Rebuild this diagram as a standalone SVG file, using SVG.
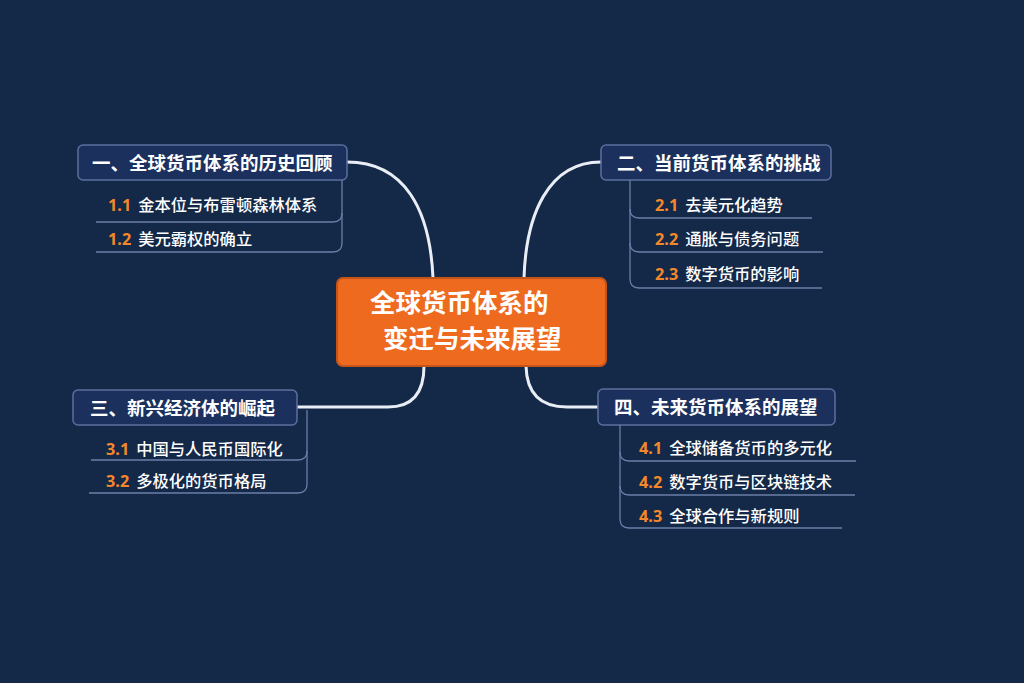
<svg xmlns="http://www.w3.org/2000/svg" width="1024" height="683" viewBox="0 0 1024 683">
<defs>
<style>
.bg{fill:#142848}
.node rect{fill:#1b305d;stroke:#5b6f9c;stroke-width:1.5}
.ht{font-family:"Noto Sans CJK SC","Noto Sans",sans-serif;font-weight:700;font-size:18.5px;fill:#ffffff}
.it{font-family:"Noto Sans CJK SC","Noto Sans",sans-serif;font-weight:500;font-size:16.3px;fill:#ffffff}
.num{font-family:"Noto Sans","Noto Sans CJK SC",sans-serif;font-weight:700;fill:#f5872b}
.br{fill:none;stroke:#6b7ea8;stroke-width:1.3}
.conn{fill:none;stroke:#e9edf5;stroke-width:3;stroke-linecap:round}
.ct{font-family:"Noto Sans CJK SC","Noto Sans",sans-serif;font-weight:700;font-size:25.5px;fill:#ffffff}
</style>
</defs>
<rect class="bg" x="0" y="0" width="1024" height="683"/>
<g id="connectors">
<path class="conn" d="M347,162 C405,162 430,210 433,278"/>
<path class="conn" d="M601,162 C548,162 526,215 524,278"/>
<path class="conn" d="M297,407 L388,407 Q424,407 424,366"/>
<path class="conn" d="M526,366 Q527,407 567,407 L598,407"/>
</g>
<g id="center">
<rect x="337" y="278" width="269" height="88" rx="6" fill="#ee6a1f" stroke="#c65418" stroke-width="2"/>
<text class="ct" x="370" y="312">全球货币体系的</text>
<text class="ct" x="383" y="348">变迁与未来展望</text>
</g>
<g id="node1" class="node">
<rect x="78" y="145" width="269" height="35" rx="5"/>
<text class="ht" x="92" y="169.5">一、全球货币体系的历史回顾</text>
<path class="br" d="M342,180 V213 Q342,222 333,222 H96"/>
<path class="br" d="M342,213 V243 Q342,252 333,252 H96"/>
<text class="it" x="108" y="211"><tspan class="num">1.1</tspan><tspan dx="7">金本位与布雷顿森林体系</tspan></text>
<text class="it" x="108" y="245"><tspan class="num">1.2</tspan><tspan dx="7">美元霸权的确立</tspan></text>
</g>
<g id="node2" class="node">
<rect x="601" y="145" width="230" height="35" rx="5"/>
<text class="ht" x="617" y="169.5">二、当前货币体系的挑战</text>
<path class="br" d="M630,180 V209 Q630,218 639,218 H812"/>
<path class="br" d="M630,209 V243 Q630,252 639,252 H823"/>
<path class="br" d="M630,243 V279 Q630,288 639,288 H822"/>
<text class="it" x="655" y="211"><tspan class="num">2.1</tspan><tspan dx="7">去美元化趋势</tspan></text>
<text class="it" x="655" y="245"><tspan class="num">2.2</tspan><tspan dx="7">通胀与债务问题</tspan></text>
<text class="it" x="655" y="280"><tspan class="num">2.3</tspan><tspan dx="7">数字货币的影响</tspan></text>
</g>
<g id="node3" class="node">
<rect x="73" y="390" width="224" height="35" rx="5"/>
<text class="ht" x="90" y="414.5">三、新兴经济体的崛起</text>
<path class="br" d="M307,410 V451 Q307,460 298,460 H91"/>
<path class="br" d="M307,451 V484 Q307,493 298,493 H89"/>
<text class="it" x="106" y="455"><tspan class="num">3.1</tspan><tspan dx="7">中国与人民币国际化</tspan></text>
<text class="it" x="106" y="487"><tspan class="num">3.2</tspan><tspan dx="7">多极化的货币格局</tspan></text>
</g>
<g id="node4" class="node">
<rect x="598" y="389" width="237" height="36" rx="5"/>
<text class="ht" x="614" y="413.5">四、未来货币体系的展望</text>
<path class="br" d="M620,425 V452 Q620,461 629,461 H856"/>
<path class="br" d="M620,452 V486 Q620,495 629,495 H855"/>
<path class="br" d="M620,486 V519 Q620,528 629,528 H842"/>
<text class="it" x="639" y="454"><tspan class="num">4.1</tspan><tspan dx="7">全球储备货币的多元化</tspan></text>
<text class="it" x="639" y="488"><tspan class="num">4.2</tspan><tspan dx="7">数字货币与区块链技术</tspan></text>
<text class="it" x="639" y="522"><tspan class="num">4.3</tspan><tspan dx="7">全球合作与新规则</tspan></text>
</g>
</svg>
